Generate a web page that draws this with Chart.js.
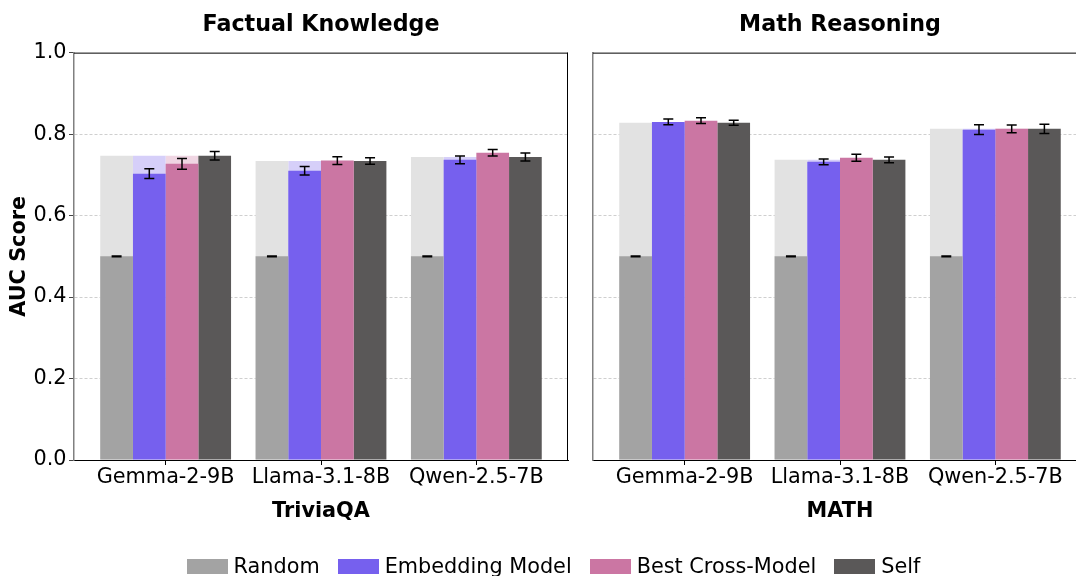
<!DOCTYPE html>
<html>
<head>
<meta charset="utf-8">
<script src="https://cdn.jsdelivr.net/npm/chart.js@4.4.0/dist/chart.umd.min.js"></script>
<style>
html,body{margin:0;padding:0;background:#fff;overflow:hidden;width:1076px;height:576px;}
#c1{position:absolute;left:0;top:0;}
#c2{position:absolute;left:583px;top:0;}
#legend{position:absolute;left:0;top:554px;width:1107px;height:25px;display:flex;justify-content:center;align-items:center;font-family:"DejaVu Sans";font-size:20.8px;line-height:25px;color:#000;white-space:nowrap;}
.item{display:flex;align-items:center;margin:0 9px;}
.box{width:41px;height:15px;margin-right:6px;}
</style>
</head>
<body>
<canvas id="c1" width="583" height="576"></canvas>
<canvas id="c2" width="519" height="576"></canvas>
<div id="legend"></div>
<script>
// ---- data ----
const models = ['Gemma-2-9B', 'Llama-3.1-8B', 'Qwen-2.5-7B'];
const seriesNames = ['Random', 'Embedding Model', 'Best Cross-Model', 'Self'];
const yTicks = [0, 0.2, 0.4, 0.6, 0.8, 1.0];

const triviaRandom    = [0.500, 0.500, 0.500];
const triviaEmbedding = [0.703, 0.710, 0.737];
const triviaCross     = [0.727, 0.735, 0.754];
const triviaSelf      = [0.747, 0.734, 0.744];
const triviaRandomErr    = [0.001, 0.001, 0.001];
const triviaEmbeddingErr = [0.012, 0.0105, 0.0095];
const triviaCrossErr     = [0.013, 0.0095, 0.008];
const triviaSelfErr      = [0.0105, 0.008, 0.0098];

const mathRandom    = [0.500, 0.500, 0.500];
const mathEmbedding = [0.830, 0.732, 0.811];
const mathCross     = [0.833, 0.742, 0.813];
const mathSelf      = [0.828, 0.737, 0.813];
const mathRandomErr    = [0.001, 0.001, 0.001];
const mathEmbeddingErr = [0.007, 0.007, 0.012];
const mathCrossErr     = [0.007, 0.0085, 0.0095];
const mathSelfErr      = [0.006, 0.007, 0.0115];

// ---- styles ----
const solidColors = ['#a3a3a3', '#7660ee', '#cb76a3', '#5a5858'];
const fadedColors = ['#e2e2e2', '#d6cff9', '#f0d6e3'];

Chart.defaults.font.family = 'DejaVu Sans';
Chart.defaults.color = '#000';

const errorBarPlugin = {
  id: 'errorBars',
  afterDatasetsDraw(chart) {
    const ctx = chart.ctx;
    const y = chart.scales.y;
    ctx.save();
    ctx.strokeStyle = '#000';
    ctx.lineWidth = 1.5;
    chart.data.datasets.forEach((ds, di) => {
      if (!ds.errorBars) return;
      const meta = chart.getDatasetMeta(di);
      meta.data.forEach((bar, j) => {
        const v = ds.data[j].y, e = ds.errorBars[j];
        const x = bar.x;
        const y1 = y.getPixelForValue(v - e), y2 = y.getPixelForValue(v + e);
        const cw = 5;
        ctx.beginPath();
        ctx.moveTo(x, y1); ctx.lineTo(x, y2);
        ctx.moveTo(x - cw, y1); ctx.lineTo(x + cw, y1);
        ctx.moveTo(x - cw, y2); ctx.lineTo(x + cw, y2);
        ctx.stroke();
      });
    });
    ctx.restore();
  }
};

const framePlugin = {
  id: 'frame',
  afterDraw(chart) {
    const {ctx, chartArea: a} = chart;
    ctx.save();
    ctx.strokeStyle = '#000';
    ctx.lineWidth = 1;
    ctx.beginPath();
    ctx.moveTo(a.left, a.top + 0.5); ctx.lineTo(a.right, a.top + 0.5);
    ctx.moveTo(a.right - 0.5, a.top); ctx.lineTo(a.right - 0.5, a.bottom);
    ctx.stroke();
    ctx.restore();
  }
};

function makeChart(id, title, xTitle, vals, errs, showY, xmin, xmax) {
  const self = vals[3];
  const datasets = [];
  for (let k = 0; k < 4; k++) {
    datasets.push({
      label: seriesNames[k],
      data: vals[k].map((v, i) => ({x: i, y: v})),
      backgroundColor: solidColors[k],
      stack: 's' + k,
      order: 0,
      errorBars: errs[k],
      categoryPercentage: 0.842,
      barPercentage: 1.0,
      borderWidth: 0
    });
  }
  for (let k = 0; k < 3; k++) {
    datasets.push({
      label: seriesNames[k] + ' ceiling',
      data: self.map((v, i) => ({x: i, y: v})),
      backgroundColor: fadedColors[k],
      stack: 's' + k,
      order: 1,
      categoryPercentage: 0.842,
      barPercentage: 1.0,
      borderWidth: 0
    });
  }
  return new Chart(document.getElementById(id), {
    type: 'bar',
    data: {datasets},
    plugins: [errorBarPlugin, framePlugin],
    options: {
      responsive: false,
      animation: false,
      devicePixelRatio: 1,
      layout: {padding: {left: 0, right: 15, top: 0, bottom: 50}},
      plugins: {
        legend: {display: false},
        tooltip: {enabled: false},
        title: {
          display: true, text: title, color: '#000', fullSize: false,
          font: {size: 22.2, weight: 'bold'},
          padding: {top: 12, bottom: 14}
        }
      },
      scales: {
        x: {
          type: 'linear',
          offset: false,
          min: xmin, max: xmax,
          afterBuildTicks: (s) => { s.ticks = models.map((m, i) => ({value: i})); },
          afterFit: (s) => { s.height = 66; },
          ticks: {
            autoSkip: false, maxRotation: 0, padding: 0,
            font: {size: 20.8}, color: '#000',
            callback: (v) => models[v]
          },
          grid: {display: true, offset: false, drawOnChartArea: false, drawTicks: true, tickLength: 5, tickColor: '#000'},
          border: {display: true, color: '#000', width: 1},
          title: {display: true, text: xTitle, font: {size: 20.8, weight: 'bold'}, color: '#000', padding: {top: 0, bottom: 2}}
        },
        y: {
          min: 0, max: 1,
          stacked: false,
          afterBuildTicks: (s) => { s.ticks = yTicks.map(v => ({value: v})); },
          afterFit: (s) => { s.width = showY ? 74 : 10; },
          ticks: {
            display: showY, padding: 2.5, font: {size: 20.8}, color: '#000',
            callback: (v) => v.toFixed(1)
          },
          grid: {
            display: true, drawOnChartArea: true, drawTicks: showY, tickLength: 5,
            tickColor: '#444', tickBorderDash: [],
            color: (c) => (c.tick && (c.tick.value === 0 || c.tick.value === 1)) ? 'rgba(0,0,0,0)' : '#cfcfcf',
            lineWidth: 1
          },
          border: {display: true, color: '#808080', width: 1.5, dash: [3, 2]},
          title: {display: showY, text: 'AUC Score', font: {size: 20.8, weight: 'bold'}, color: '#000', padding: {top: 7.5, bottom: 0}}
        }
      }
    }
  });
}

makeChart('c1', 'Factual Knowledge', 'TriviaQA',
  [triviaRandom, triviaEmbedding, triviaCross, triviaSelf],
  [triviaRandomErr, triviaEmbeddingErr, triviaCrossErr, triviaSelfErr], true, -0.59, 2.59);
makeChart('c2', 'Math Reasoning', 'MATH',
  [mathRandom, mathEmbedding, mathCross, mathSelf],
  [mathRandomErr, mathEmbeddingErr, mathCrossErr, mathSelfErr], false, -0.59, 2.59);

// ---- legend (HTML, real text) ----
const legend = document.getElementById('legend');
seriesNames.forEach((name, k) => {
  const item = document.createElement('div');
  item.className = 'item';
  const box = document.createElement('span');
  box.className = 'box';
  box.style.background = solidColors[k];
  const label = document.createElement('span');
  label.textContent = name;
  item.appendChild(box);
  item.appendChild(label);
  legend.appendChild(item);
});
</script>
</body>
</html>
